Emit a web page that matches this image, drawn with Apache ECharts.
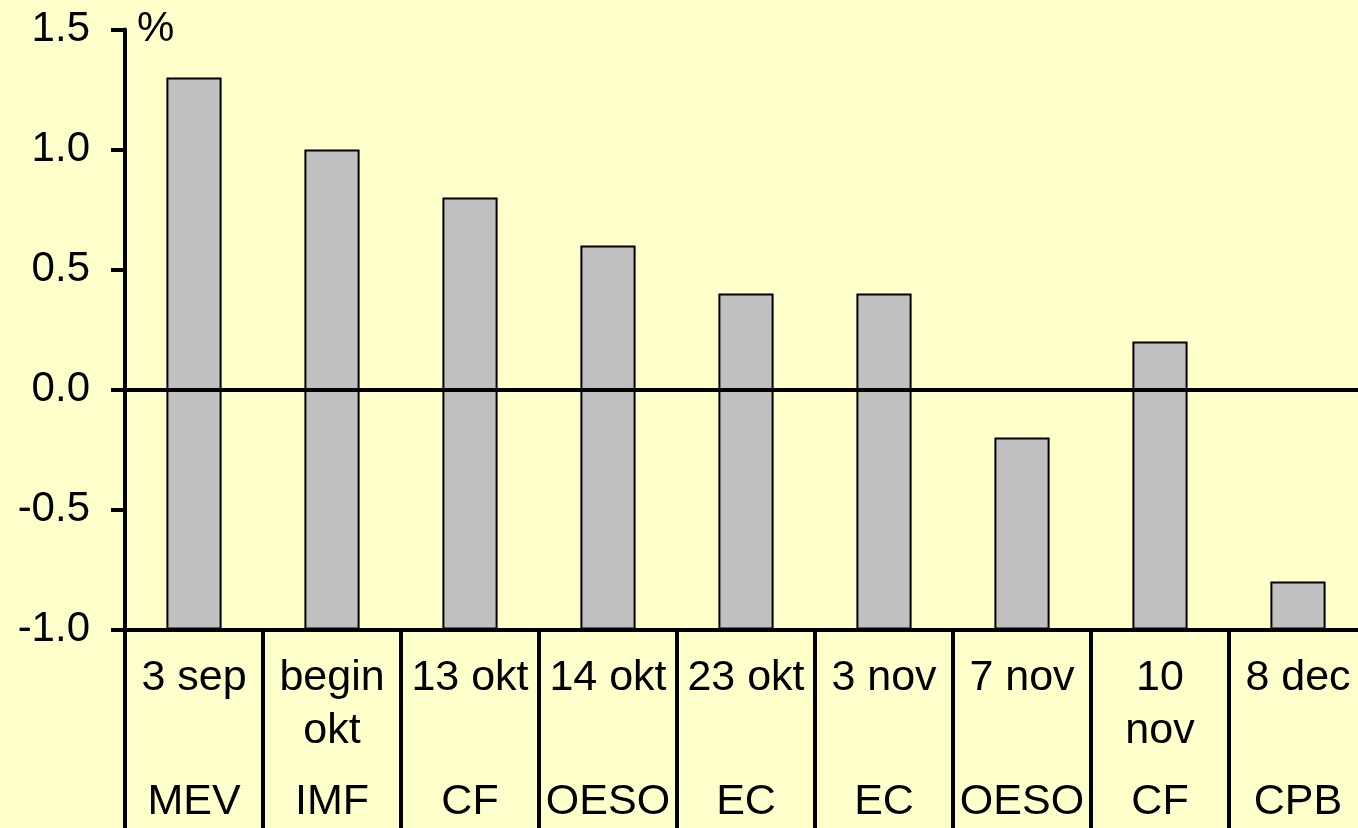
<!DOCTYPE html>
<html>
<head>
<meta charset="utf-8">
<script src="https://cdn.jsdelivr.net/npm/echarts@6/dist/echarts.min.js"></script>
<style>
html,body{margin:0;padding:0;background:#FFFFCC;}
#chart{width:1358px;height:828px;}
</style>
</head>
<body>
<div id="chart"></div>
<script>
const dates = ['3 sep','begin\nokt','13 okt','14 okt','23 okt','3 nov','7 nov','10\nnov','8 dec'];
const sources = ['MEV','IMF','CF','OESO','EC','EC','OESO','CF','CPB'];
const values = [1.3, 1.0, 0.8, 0.6, 0.4, 0.4, -0.2, 0.2, -0.8];
const yTicks = {min: -1.0, max: 1.5, interval: 0.5};
const unitLabel = '%';

const FONT = '"Liberation Sans", Arial, sans-serif';
const chart = echarts.init(document.getElementById('chart'), null, {renderer:'canvas'});
chart.setOption({
  backgroundColor: '#FFFFCC',
  animation: false,
  grid: {left: 125, right: -9, top: 29.5, bottom: 198.5, containLabel: false, outerBoundsMode: 'none'},
  xAxis: [
    {
      type: 'category', data: dates, position: 'bottom',
      axisLine: {onZero: false, lineStyle: {color: '#000', width: 4}},
      axisTick: {show: true, interval: 0, alignWithLabel: false, length: 200, lineStyle: {color: '#000', width: 4}},
      axisLabel: {interval: 0, color: '#000', fontSize: 43, fontFamily: FONT, lineHeight: 53, margin: 22},
      splitLine: {show: false}
    },
    {
      type: 'category', data: sources, position: 'bottom', gridIndex: 0,
      axisLine: {show: false, onZero: false},
      axisTick: {show: false},
      axisLabel: {interval: 0, color: '#000', fontSize: 43, fontFamily: FONT, lineHeight: 53, margin: 146},
      splitLine: {show: false}
    }
  ],
  yAxis: {
    type: 'value', min: yTicks.min, max: yTicks.max, interval: yTicks.interval,
    startValue: yTicks.min,
    name: unitLabel, nameLocation: 'end', nameGap: 0,
    nameTextStyle: {color: '#000', fontSize: 42, fontFamily: FONT, align: 'left', verticalAlign: 'middle', padding: [0, 0, 0, 12]},
    axisLine: {show: true, onZero: false, lineStyle: {color: '#000', width: 4}},
    axisTick: {show: true, inside: false, length: 14, lineStyle: {color: '#000', width: 4}},
    axisLabel: {color: '#000', fontSize: 42, fontFamily: FONT, margin: 35, formatter: v => v.toFixed(1)},
    splitLine: {show: false}
  },
  series: [{
    type: 'bar', data: values, xAxisIndex: 0, barWidth: '40%',
    itemStyle: {color: '#C0C0C0', borderColor: '#000', borderWidth: 2},
    markLine: {
      silent: true, symbol: 'none', label: {show: false},
      lineStyle: {color: '#000', width: 4, type: 'solid'},
      data: [{yAxis: 0}]
    }
  }]
});
</script>
</body>
</html>
